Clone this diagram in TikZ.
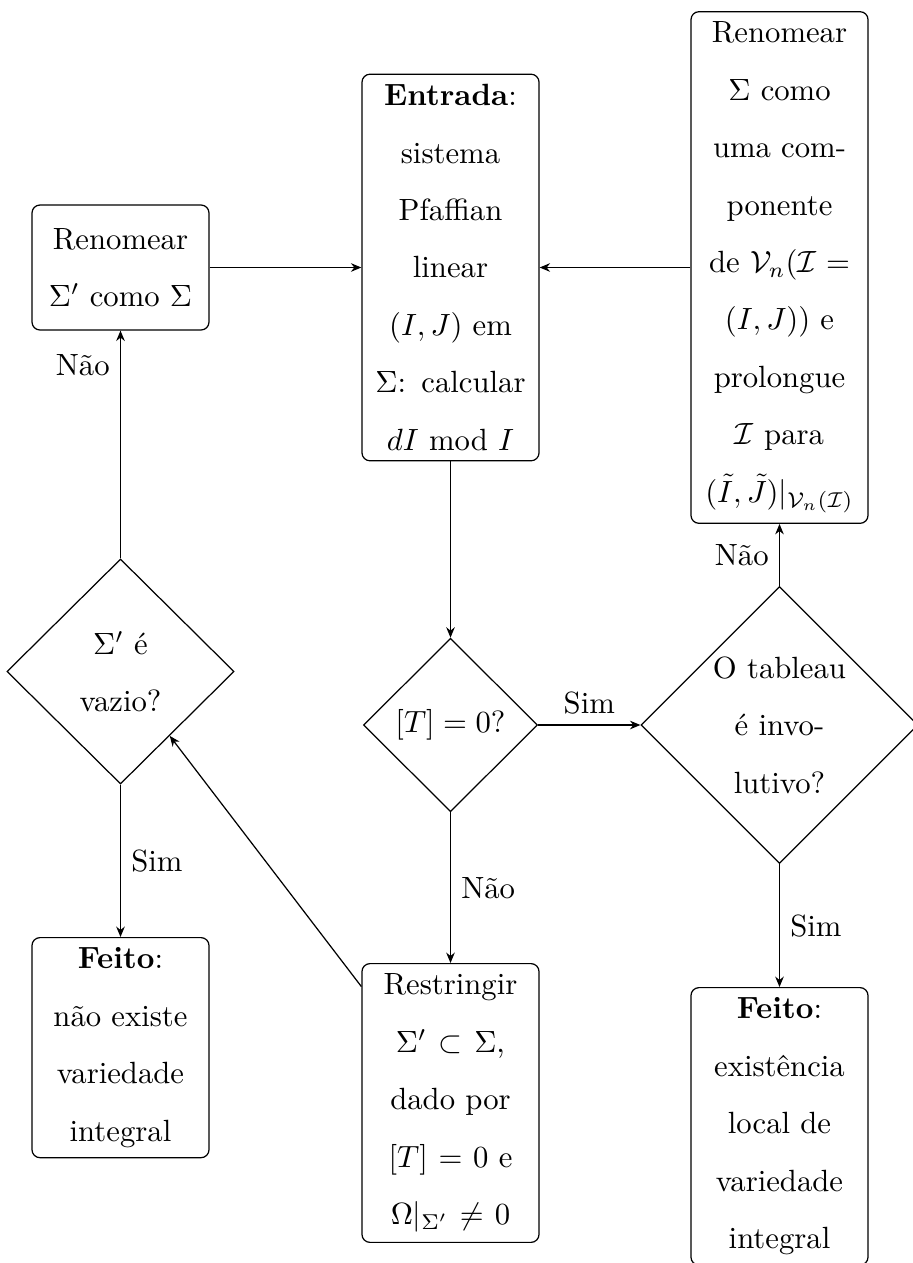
\documentclass[tikz,border=0pt]{standalone}
\usepackage{fontspec}
\usetikzlibrary{shapes.geometric,arrows.meta}
\begin{document}
\begin{tikzpicture}[x=0.32573pt,y=-0.32573pt,
  txt/.style={font=\fontsize{10}{18.7}\selectfont},
  box/.style={txt,draw,rounded corners=2.6pt,text width=51pt,align=center,inner sep=3.333pt,line width=0.4pt},
  dec/.style={txt,draw,diamond,aspect=1,inner sep=0pt,align=center,line width=0.4pt},
  lbl/.style={txt,inner sep=3.333pt},
  arr/.style={-{Stealth[length=3.4pt,width=2.8pt]},line width=0.4pt}]
\useasboundingbox (0,0) rectangle (912,1263);

\node[box,minimum height=40.7pt] (ren1) at (120.5,267.5) {Renomear\\ $\Sigma'$ como $\Sigma$};
\node[box] (entr) at (450.5,267.5) {\textbf{Entrada}:\\ sistema\\ Pfaffian\\ linear\\ $(I,J)$ em\\ $\Sigma$: calcular\\ $dI$ mod $I$};
\node[box] (ren2) at (779.5,267.5) {Renomear\\ $\Sigma$ como\\ uma com-\\ ponente\\ de $\mathcal{V}_n(\mathcal{I}=$\\ $(I,J))$ e\\ prolongue\\ $\mathcal{I}$ para\\ $(\tilde I,\tilde J)|_{\mathcal{V}_n(\mathcal{I})}$};

\node[dec,minimum width=74pt,minimum height=73.3pt] (vaz) at (120.5,671.5) {$\Sigma'$ é\\ vazio?};
\node[dec,minimum width=56.7pt,minimum height=56.5pt] (tz) at (450.5,725) {$[T]=0?$};
\node[dec,minimum width=90.2pt,minimum height=90.2pt] (inv) at (779.5,725) {O tableau\\ é invo-\\ lutivo?};

\node[box,anchor=north] (feito1) at (120.5,937) {\textbf{Feito}:\\ não existe\\ variedade\\ integral};
\node[box,anchor=north] (restr) at (450.5,963) {Restringir\\ $\Sigma'\subset\Sigma$,\\ dado por\\ $[T]=0$ e\\ $\Omega|_{\Sigma'}\neq 0$};
\node[box,anchor=north] (feito2) at (779.5,987) {\textbf{Feito}:\\ existência\\ local de\\ variedade\\ integral};

\draw[arr] (ren1) -- (entr);
\draw[arr] (ren2) -- (entr);
\draw[arr] (entr) -- (tz);
\draw[arr] (tz) -- node[lbl,above]{Sim} (inv);
\draw[arr] (tz) -- node[lbl,right]{Não} (restr);
\draw[arr] (restr) -- (vaz);
\draw[arr] (vaz) -- node[lbl,pos=0.85,left]{Não} (ren1);
\draw[arr] (vaz) -- node[lbl,right]{Sim} (feito1);
\draw[arr] (inv) -- node[lbl,left]{Não} (ren2);
\draw[arr] (inv) -- node[lbl,right]{Sim} (feito2);
\end{tikzpicture}
\end{document}
